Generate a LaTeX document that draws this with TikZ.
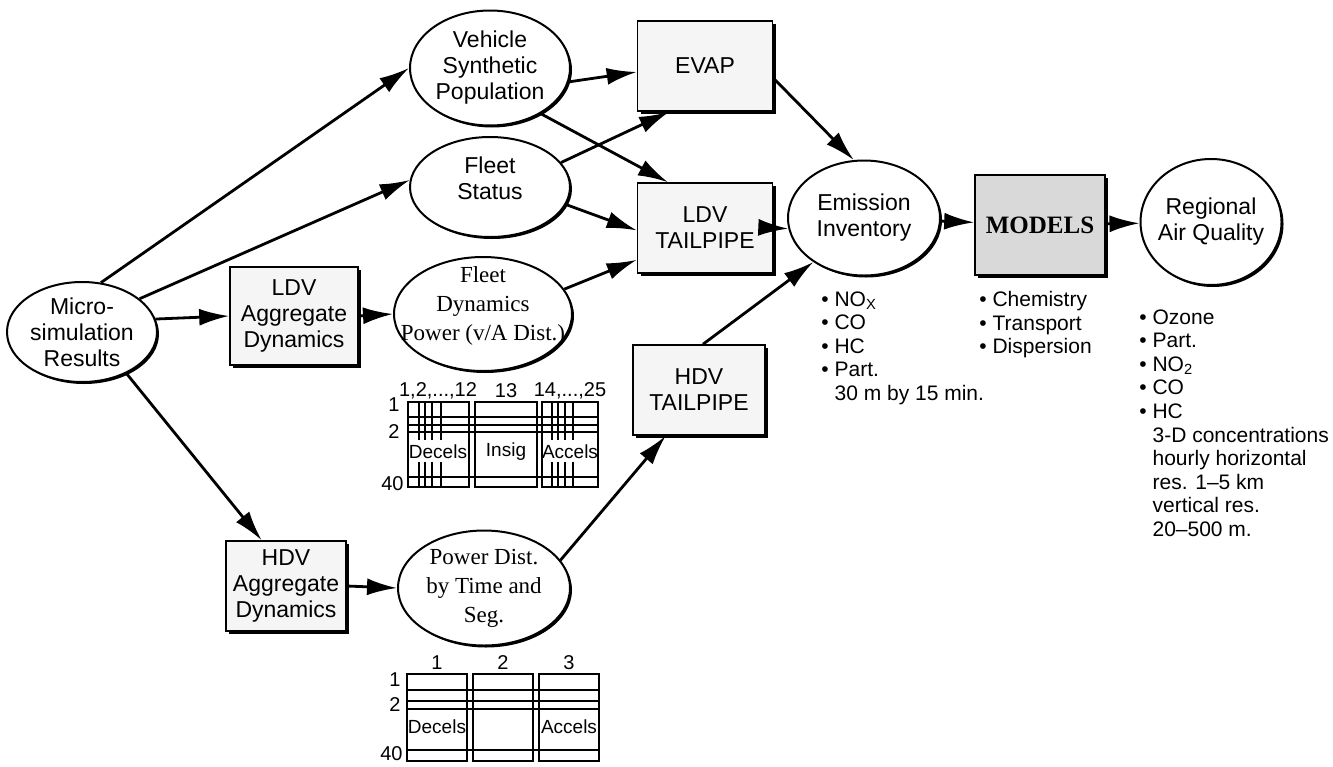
\documentclass[tikz,border=0pt]{standalone}
\usepackage{fontspec}
\setmainfont{Liberation Sans}
\newfontfamily\timesfont{Liberation Serif}
\usetikzlibrary{arrows.meta,shapes.geometric,shadows}
\newcommand\anheben[2]{\raisebox{#1}[\height][\depth]{\begin{tabular}{@{}c@{}}#2\end{tabular}}}

\begin{document}
\begin{tikzpicture}[x=0.5pt,y=-0.5pt,>={Latex[length=15pt,width=8.5pt]},line width=1.4pt,
	oval/.style={ellipse,draw,fill=white,line width=1pt,inner xsep=-10pt,inner ysep=-6pt,align=center,
		font=\fontsize{11.5}{13}\selectfont,
		drop shadow={shadow xshift=1pt,shadow yshift=-1pt,fill=black,opacity=1}},
	stufe/.style={rectangle,draw,fill=gray!8,line width=0.8pt,inner sep=0pt,align=center,
		font=\fontsize{11.5}{13}\selectfont,
		drop shadow={shadow xshift=1.5pt,shadow yshift=-1.5pt,fill=black,opacity=1}},
	serif/.style={font=\timesfont\fontsize{11.5}{14.5}\selectfont},
	liste/.style={anchor=north west,inner sep=0pt,align=left,font=\fontsize{10.5}{11.8}\selectfont},
	tab/.style={line width=0.6pt},
	zahl/.style={inner sep=0pt,font=\fontsize{10}{11}\selectfont},
	zelle/.style={inner sep=0pt,font=\fontsize{9.5}{10}\selectfont}]
\useasboundingbox (0,0) rectangle (1333,766);

\node[oval,minimum width=75pt,minimum height=50pt] (micro) at (82,332) {Micro-\\simulation\\Results};
\node[stufe,minimum width=64pt,minimum height=49pt] (ldvagg) at (294,316) {LDV\\Aggregate\\Dynamics};
\node[stufe,minimum width=60pt,minimum height=45pt] (hdvagg) at (286,586) {HDV\\Aggregate\\Dynamics};

\node[oval,minimum width=80pt,minimum height=57.5pt] (synpop) at (490,68) {Vehicle\\Synthetic\\Population};
\node[oval,minimum width=80pt,minimum height=50pt] (status) at (490,187) {\anheben{3pt}{Fleet\\Status}};
\node[oval,serif,minimum width=89pt,minimum height=57pt] (fleetdyn) at (483,314) {\anheben{4pt}{Fleet\\Dynamics\\Power (v/A Dist.)}};
\node[oval,serif,minimum width=86pt,minimum height=57.5pt] (powerdist) at (484,588) {Power Dist.\\by Time and\\Seg.};

\node[stufe,minimum width=67.5pt,minimum height=45pt] (evap) at (705,66) {EVAP};
\node[stufe,minimum width=67.5pt,minimum height=45pt] (ldvtail) at (705,228) {LDV\\TAILPIPE};
\node[stufe,minimum width=66pt,minimum height=45pt] (hdvtail) at (699,390) {HDV\\TAILPIPE};

\node[oval,minimum width=76pt,minimum height=57.5pt] (emission) at (864,218) {Emission\\Inventory};
\node[stufe,fill=gray!30,minimum width=65pt,minimum height=50pt,font=\timesfont\bfseries\fontsize{12.5}{14}\selectfont] (models) at (1040,225) {MODELS};
\node[oval,minimum width=70.5pt,minimum height=63pt] (airq) at (1211,222) {Regional\\Air Quality};

\draw[->] (micro.69) -- (synpop.west);
\draw[->] (micro.30) -- (status.175);
\draw[->] (micro.10) -- (ldvagg.west);
\draw[->] (micro.-43) -- (hdvagg.118);
\draw[->] (ldvagg.east) -- (fleetdyn.west);
\draw[->] (hdvagg.east) -- (powerdist.west);
\draw[->] (synpop.-10) -- (evap.185);
\draw[->] (synpop.-42) -- (ldvtail.129);
\draw[->] (status.19) -- (evap.232);
\draw[->] (status.-13) -- (ldvtail.182);
\draw[->] (fleetdyn.17) -- (ldvtail.205);
\draw[->] (powerdist.20) -- (hdvtail.234);
\draw[->] (evap.-10) -- (emission.100);
\draw[->] (ldvtail.east) -- (emission.188);
\draw[->] (hdvtail.85) -- (emission.221);
\draw[->] (emission) -- (models);
\draw[->] (models) -- (airq);

\foreach \xa/\xb in {408/469,475/537,542/598}{
	\draw[tab] (\xa,402) rectangle (\xb,487);
}
\foreach \y in {417,425,432,477}{
	\draw[tab] (408,\y) -- (598,\y);
}
\foreach \x in {419,425,432,441,552,558,565,573}{
	\draw[tab] (\x,402) -- (\x,440);
	\draw[tab] (\x,462) -- (\x,487);
}
\node[zahl] at (438,391) {1,2,...,12};
\node[zahl] at (506,391) {13};
\node[zahl] at (570,391) {14,...,25};
\node[zahl,anchor=east] at (401,405) {1};
\node[zahl,anchor=east] at (401,432) {2};
\node[zahl,anchor=east] at (405,484) {40};
\node[zelle] at (438,452) {Decels};
\node[zelle] at (506,452) {Insig};
\node[zelle] at (570,452) {Accels};

\foreach \xa/\xb in {407/467,473/533,539/599}{
	\draw[tab] (\xa,674) rectangle (\xb,761);
}
\foreach \y in {690,701,709,750}{
	\draw[tab] (407,\y) -- (599,\y);
}
\node[zahl] at (437,663) {1};
\node[zahl] at (503,663) {2};
\node[zahl] at (569,663) {3};
\node[zahl,anchor=east] at (402,680) {1};
\node[zahl,anchor=east] at (402,705) {2};
\node[zahl,anchor=east] at (404,754) {40};
\node[zelle] at (437,727) {Decels};
\node[zelle] at (569,727) {Accels};

\node[liste] (emlist) at (820,290) {• NO\textsubscript{X}\\• CO\\• HC\\• Part.\\\hphantom{•\ }30 m by 15 min.};
\node[liste] (modlist) at (978,290) {• Chemistry\\• Transport\\• Dispersion};
\node[liste] (aqlist) at (1138,308) {• Ozone\\• Part.\\• NO\textsubscript{2}\\• CO\\• HC\\\hphantom{•\ }3-D concentrations\\\hphantom{•\ }hourly horizontal\\\hphantom{•\ }res. 1–5 km\\\hphantom{•\ }vertical res.\\\hphantom{•\ }20–500 m.};

\end{tikzpicture}
\end{document}
